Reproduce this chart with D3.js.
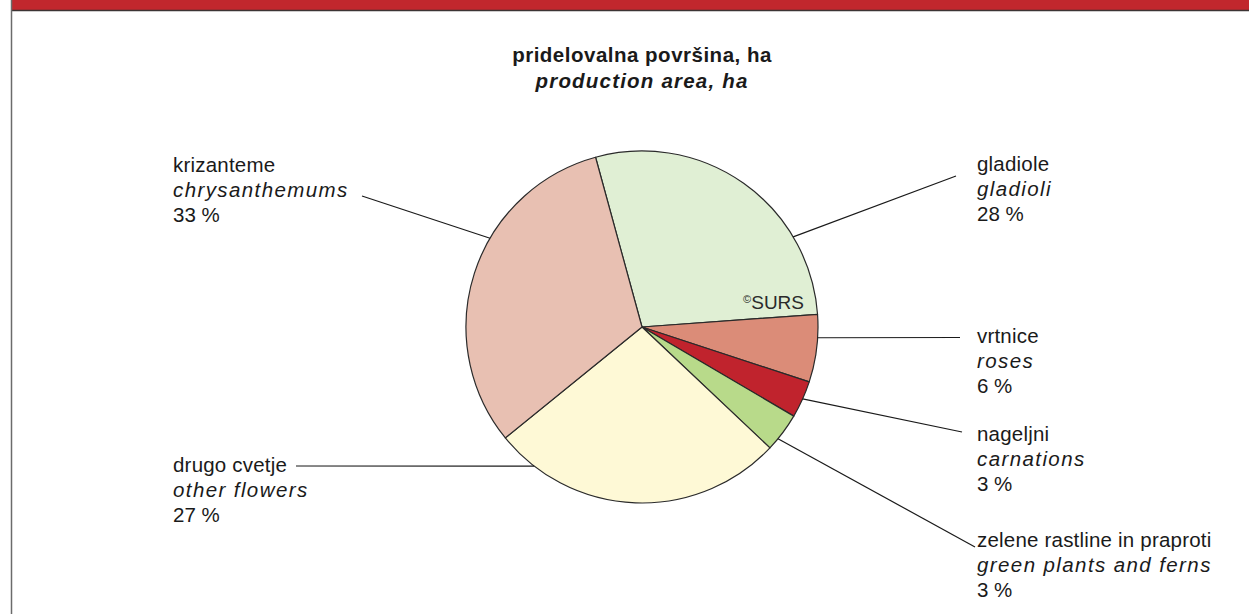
<!DOCTYPE html>
<html><head><meta charset="utf-8">
<script src="https://cdn.jsdelivr.net/npm/d3@7/dist/d3.min.js"></script>
<style>
html,body{margin:0;padding:0;background:#fff;overflow:hidden;}
svg{display:block;font-family:"Liberation Sans",Arial,sans-serif;}
</style></head>
<body><svg id="c" width="1249" height="614"></svg>
<script>
// ---- data ----
const categoriesSl = ["gladiole","vrtnice","nageljni","zelene rastline in praproti","drugo cvetje","krizanteme"];
const categoriesEn = ["gladioli","roses","carnations","green plants and ferns","other flowers","chrysanthemums"];
const shareValues = [28.1, 6.2, 3.4, 3.6, 27.1, 31.6];
const shareLabels = ["28 %","6 %","3 %","3 %","27 %","33 %"];
const colors = ["#e0efd4","#db8c78","#c0232d","#b8da8a","#fef9d6","#e8c0b2"];
const titleSl = "pridelovalna površina, ha";
const titleEn = "production area, ha";

// ---- layout ----
const W = 1249, H = 614;
const cx = 642, cy = 327, R = 176;
const startDeg = -15.3;
const labelLayout = [
  {tx:977, ty:171, la:59.2,  ox:956, oy:176},
  {tx:977, ty:343, la:93.5,  ox:960, oy:337.5},
  {tx:977, ty:441, la:114.1, ox:962, oy:432},
  {tx:977, ty:547, la:129.4, ox:975, oy:547},
  {tx:173, ty:472, la:217.8, ox:296, oy:466},
  {tx:173, ty:172, la:300.3, ox:362, oy:196}
];
const lineH = 25;
const fs = 20.5;

const svg = d3.select("#c");

// frame
svg.append("rect").attr("x",11).attr("y",0).attr("width",W-11).attr("height",10).attr("fill","#c1272d");
svg.append("line").attr("x1",11).attr("x2",W).attr("y1",10.5).attr("y2",10.5).attr("stroke","#3c3434").attr("stroke-width",1.5);
svg.append("line").attr("x1",11.5).attr("x2",11.5).attr("y1",0).attr("y2",H).attr("stroke","#6b6b6b").attr("stroke-width",1.5);

// title
svg.append("text").attr("x",cx).attr("y",62).attr("text-anchor","middle").attr("font-size",20.5).attr("font-weight","bold").attr("letter-spacing",0.5).attr("fill","#1a1a1a").text(titleSl);
svg.append("text").attr("x",cx).attr("y",88).attr("text-anchor","middle").attr("font-size",20.5).attr("font-weight","bold").attr("font-style","italic").attr("letter-spacing",1.2).attr("fill","#1a1a1a").text(titleEn);

// pie
const toRad = d => d*Math.PI/180;
const pie = d3.pie().sort(null).value(d=>d).startAngle(toRad(startDeg)).endAngle(toRad(startDeg+360));
const arc = d3.arc().innerRadius(0).outerRadius(R);
const g = svg.append("g").attr("transform",`translate(${cx},${cy})`);
g.selectAll("path").data(pie(shareValues)).join("path")
  .attr("d",arc).attr("fill",(d,i)=>colors[i])
  .attr("stroke","#2a2a2a").attr("stroke-width",1.2).attr("stroke-linejoin","round");

// copyright
const cp = svg.append("text").attr("x",804).attr("y",309).attr("text-anchor","end").attr("fill","#2a2a2a").attr("font-size",19);
cp.append("tspan").attr("font-size",11).attr("dy",-6).text("©");
cp.append("tspan").attr("dy",6).text("SURS");

// leaders and labels
labelLayout.forEach((L,i)=>{
  const a = toRad(L.la);
  const px = cx + R*Math.sin(a), py = cy - R*Math.cos(a);
  svg.append("line").attr("x1",px).attr("y1",py).attr("x2",L.ox).attr("y2",L.oy)
    .attr("stroke","#1a1a1a").attr("stroke-width",1.2);
  const t = svg.append("text").attr("font-size",fs).attr("fill","#1a1a1a");
  t.append("tspan").attr("x",L.tx).attr("y",L.ty).attr("letter-spacing",0.2).text(categoriesSl[i]);
  t.append("tspan").attr("x",L.tx).attr("y",L.ty+lineH).attr("font-style","italic").attr("letter-spacing",1.4).text(categoriesEn[i]);
  t.append("tspan").attr("x",L.tx).attr("y",L.ty+2*lineH).attr("letter-spacing",0).text(shareLabels[i]);
});
</script></body></html>
